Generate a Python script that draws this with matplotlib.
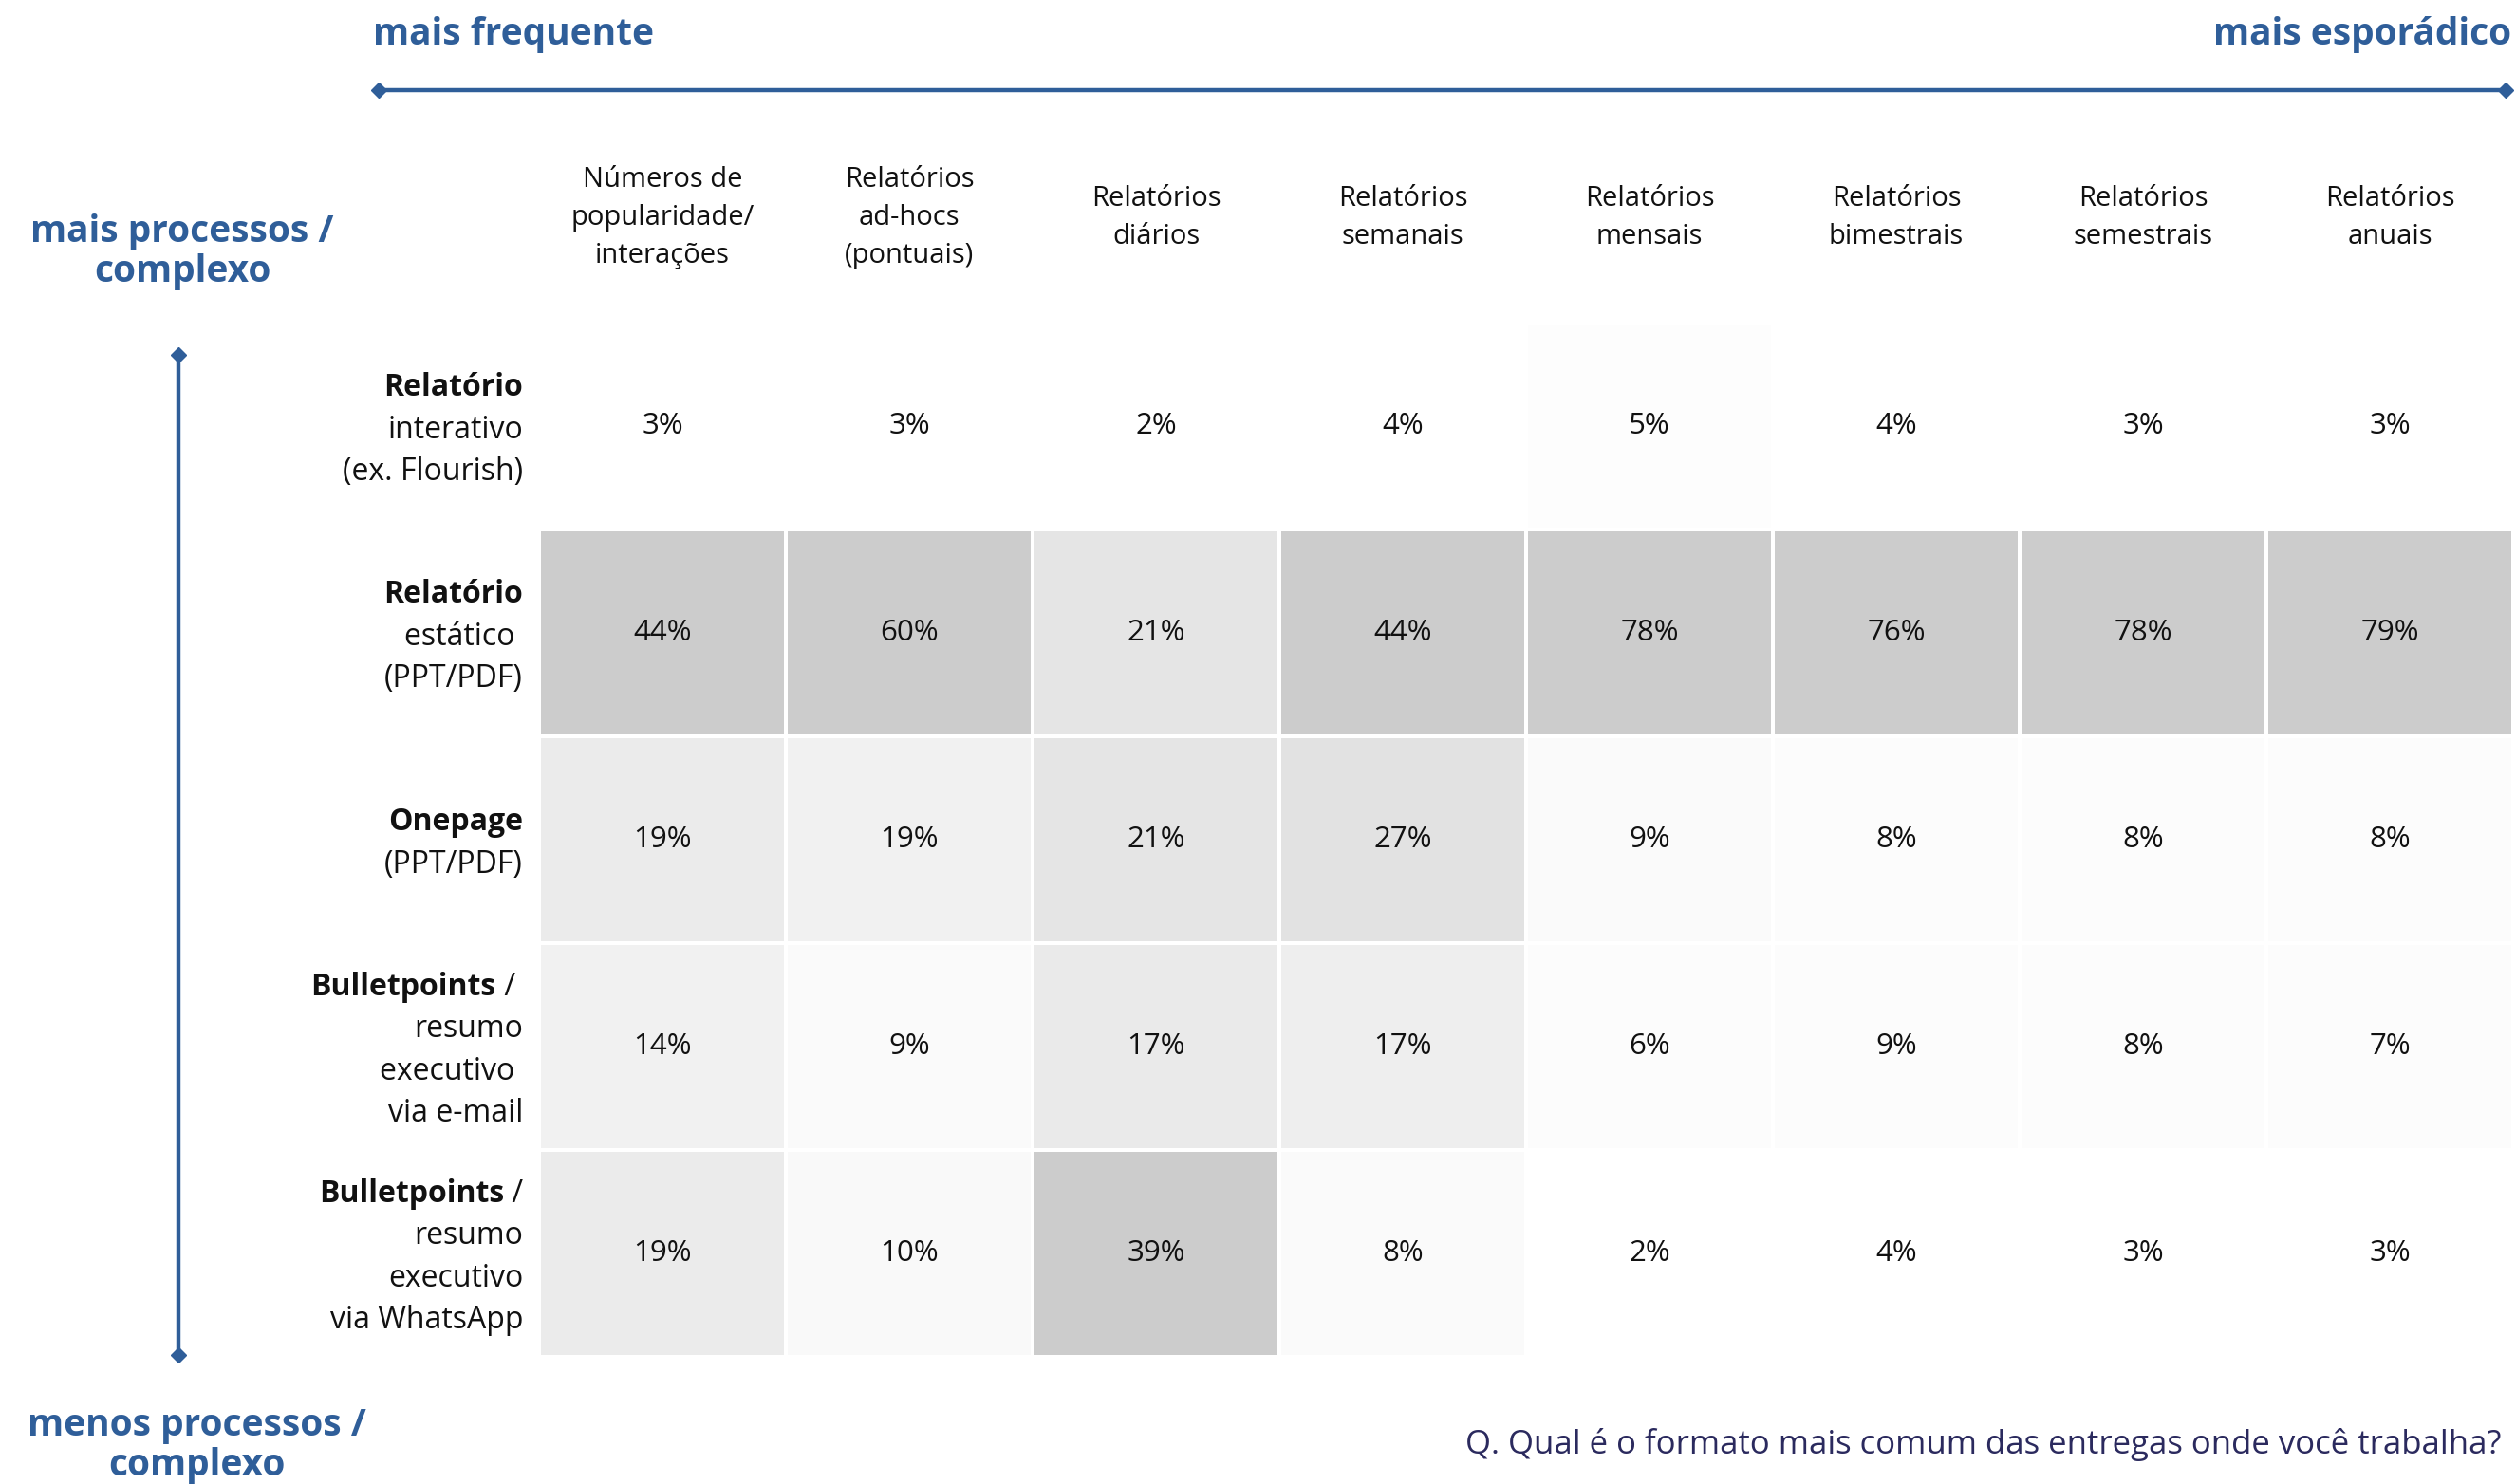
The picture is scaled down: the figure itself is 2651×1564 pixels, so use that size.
import numpy as np
import matplotlib
matplotlib.use('Agg')
import matplotlib.pyplot as plt
from matplotlib.colors import LinearSegmentedColormap
from matplotlib.lines import Line2D

# periodicidade das entregas (colunas)
periodos = ["Números de\npopularidade/\ninterações", "Relatórios\nad-hocs\n(pontuais)",
            "Relatórios\ndiários", "Relatórios\nsemanais", "Relatórios\nmensais",
            "Relatórios\nbimestrais", "Relatórios\nsemestrais", "Relatórios\nanuais"]

# formatos (linhas): parte em negrito + restante
formato_titulo = ["Relatório", "Relatório", "Onepage", "Bulletpoints", "Bulletpoints"]
formato_sufixo = ["", "", "", " / ", " /"]
formato_resto = [["interativo", "(ex. Flourish)"],
                 ["estático ", "(PPT/PDF)"],
                 ["(PPT/PDF)"],
                 ["resumo", "executivo ", "via e-mail"],
                 ["resumo", "executivo", "via WhatsApp"]]

# % de respostas por formato
interativo = [3, 3, 2, 4, 5, 4, 3, 3]
estatico = [44, 60, 21, 44, 78, 76, 78, 79]
onepage = [19, 19, 21, 27, 9, 8, 8, 8]
bullet_email = [14, 9, 17, 17, 6, 9, 8, 7]
bullet_whatsapp = [19, 10, 39, 8, 2, 4, 3, 3]

pergunta = "Q. Qual é o formato mais comum das entregas onde você trabalha?"

AZUL = '#2F5E99'
FONTE = 'Open Sans'
TITULO = 'Open Sans'

vals = np.array([interativo, estatico, onepage, bullet_email, bullet_whatsapp], dtype=float)
nlin, ncol = vals.shape

W, H = 2651, 1564
fig = plt.figure(figsize=(W / 100, H / 100), dpi=100)
fig.patch.set_facecolor('white')

ax = fig.add_axes([568 / W, 1 - 1430 / H, 2080 / W, 1090 / H])

# escala de cinza normalizada por coluna (mín -> branco, máx -> cinza)
cmap = LinearSegmentedColormap.from_list('cinza', ['#ffffff', '#cccccc'])
vmin_col = vals.min(axis=0)
escala = (vals - vmin_col) / (vals.max(axis=0) - vmin_col)
ax.pcolormesh(np.arange(ncol + 1), np.arange(nlin + 1), escala, cmap=cmap,
              vmin=0, vmax=1, edgecolors='white', linewidth=1.5)
ax.set_xlim(0, ncol)
ax.set_ylim(nlin, 0)
ax.axis('off')

for i in range(nlin):
    for j in range(ncol):
        ax.text(j + 0.5, i + 0.5, f"{vals[i, j]:.0f}%", ha='center', va='center',
                fontsize=22.5, family=FONTE, color='#111111')

for j, p in enumerate(periodos):
    ax.text(j + 0.5, -0.505, p, ha='center', va='center', fontsize=21,
            family=FONTE, linespacing=1.5, color='#111111', clip_on=False)

passo = 0.202
xr = -0.065
fs_lin = 23
for i in range(nlin):
    n = len(formato_resto[i]) + 1
    ys = [i + 0.5 + (k - (n - 1) / 2) * passo for k in range(n)]
    if formato_sufixo[i]:
        suf = ax.text(xr, ys[0], formato_sufixo[i], ha='right', va='center_baseline',
                      fontsize=fs_lin, family=FONTE, color='#111111', clip_on=False)
        ax.annotate(formato_titulo[i], xy=(0, 0), xycoords=suf, ha='right', va='bottom',
                    fontsize=fs_lin, family=FONTE, fontweight='bold', color='#111111',
                    annotation_clip=False)
    else:
        ax.text(xr, ys[0], formato_titulo[i], ha='right', va='center_baseline',
                fontsize=fs_lin, family=FONTE, fontweight='bold', color='#111111',
                clip_on=False)
    for k, linha in enumerate(formato_resto[i]):
        ax.text(xr, ys[k + 1], linha, ha='right', va='center_baseline',
                fontsize=fs_lin, family=FONTE, color='#111111', clip_on=False)

# eixos de leitura: frequência (horizontal) e complexidade (vertical)
fig.add_artist(Line2D([399 / W, 2640 / W], [1 - 95 / H, 1 - 95 / H], color=AZUL, lw=3.2,
                      marker='D', markersize=8, transform=fig.transFigure))
fig.add_artist(Line2D([188 / W, 188 / W], [1 - 374 / H, 1 - 1428 / H], color=AZUL, lw=3.2,
                      marker='D', markersize=8, transform=fig.transFigure))

fs_tit = 28
fig.text(393 / W, 1 - 37 / H, "mais frequente", ha='left', va='center', fontsize=fs_tit,
         family=TITULO, fontweight='bold', color=AZUL)
fig.text(2646 / W, 1 - 37 / H, "mais esporádico", ha='right', va='center', fontsize=fs_tit,
         family=TITULO, fontweight='bold', color=AZUL)
fig.text(192 / W, 1 - 265 / H, "mais processos /\ncomplexo", ha='center', va='center',
         fontsize=fs_tit, family=TITULO, fontweight='bold', color=AZUL, linespacing=1.1)
fig.text(207 / W, 1 - 1524 / H, "menos processos /\ncomplexo", ha='center', va='center',
         fontsize=fs_tit, family=TITULO, fontweight='bold', color=AZUL, linespacing=1.1)

fig.text(2636 / W, 1 - 1523 / H, pergunta, ha='right', va='center', fontsize=25,
         family=FONTE, color='#2B2A5E')

fig.savefig('out.png', dpi=100, facecolor='white')
